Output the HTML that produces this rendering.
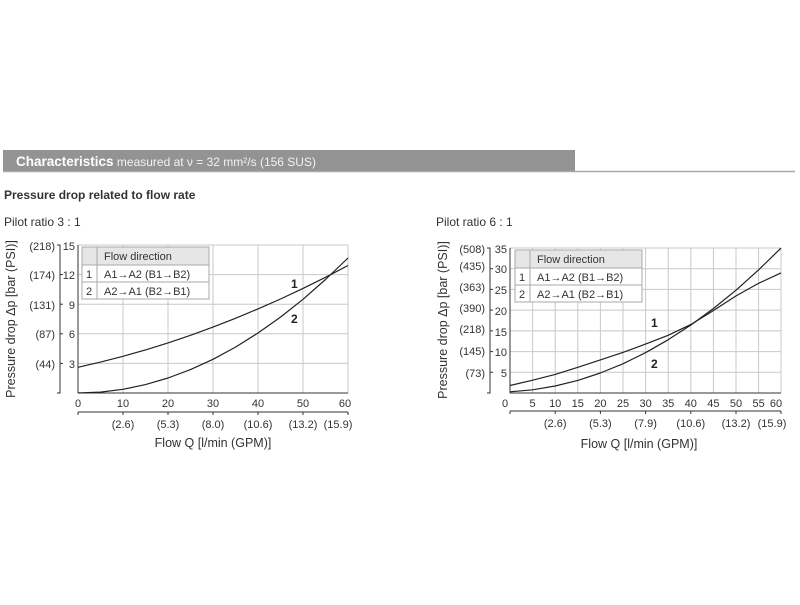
<!DOCTYPE html>
<html><head><meta charset="utf-8"><style>
body{margin:0;background:#fff;width:800px;height:600px;overflow:hidden}
svg{font-family:"Liberation Sans",sans-serif}
</style></head><body>
<svg width="800" height="600" viewBox="0 0 800 600" xmlns="http://www.w3.org/2000/svg">
<rect x="3" y="150" width="572" height="22" fill="#939393"/>
<line x1="3" y1="171.5" x2="795" y2="171.5" stroke="#a8a8a8" stroke-width="1.5"/>
<text x="16" y="166" font-size="13.5" fill="#fff"><tspan font-weight="bold">Characteristics</tspan><tspan font-size="12" fill="#f2f2f2"> measured at ν = 32 mm²/s (156 SUS)</tspan></text>
<text x="4" y="199" font-size="12" font-weight="bold" fill="#333">Pressure drop related to flow rate</text>
<text x="4" y="226" font-size="12" fill="#333">Pilot ratio 3 : 1</text>
<text x="436" y="226" font-size="12" fill="#333">Pilot ratio 6 : 1</text>

<!-- LEFT CHART -->
<g stroke="#c8c8c8" stroke-width="1" fill="none">
<line x1="123" y1="245" x2="123" y2="393"/><line x1="168" y1="245" x2="168" y2="393"/>
<line x1="213" y1="245" x2="213" y2="393"/><line x1="258" y1="245" x2="258" y2="393"/>
<line x1="303" y1="245" x2="303" y2="393"/><line x1="348" y1="245" x2="348" y2="393"/>
<line x1="78" y1="363.4" x2="348" y2="363.4"/><line x1="78" y1="333.8" x2="348" y2="333.8"/>
<line x1="78" y1="304.2" x2="348" y2="304.2"/><line x1="78" y1="274.6" x2="348" y2="274.6"/>
<line x1="78" y1="245" x2="348" y2="245"/>
</g>
<g stroke="#333" stroke-width="1" fill="none">
<line x1="78" y1="393" x2="348" y2="393"/>
<line x1="78" y1="245" x2="78" y2="393"/>
<polyline points="57,245 60,245 60,393 57,393"/>
<line x1="60" y1="274.6" x2="63" y2="274.6"/><line x1="60" y1="304.2" x2="63" y2="304.2"/>
<line x1="60" y1="333.8" x2="63" y2="333.8"/><line x1="60" y1="363.4" x2="63" y2="363.4"/>
<line x1="78" y1="412" x2="348" y2="412"/>
<line x1="78" y1="412" x2="78" y2="415"/><line x1="123" y1="412" x2="123" y2="415"/><line x1="168" y1="412" x2="168" y2="415"/><line x1="213" y1="412" x2="213" y2="415"/><line x1="258" y1="412" x2="258" y2="415"/><line x1="303" y1="412" x2="303" y2="415"/><line x1="348" y1="412" x2="348" y2="415"/>
</g>
<g font-size="11" fill="#333" text-anchor="end">
<text x="75" y="250">15</text><text x="75" y="279">12</text><text x="75" y="309">9</text><text x="75" y="338">6</text><text x="75" y="368">3</text>
<text x="55" y="250">(218)</text><text x="55" y="279">(174)</text><text x="55" y="309">(131)</text><text x="55" y="338">(87)</text><text x="55" y="368">(44)</text>
</g>
<g font-size="11" fill="#333" text-anchor="middle">
<text x="78" y="407">0</text><text x="123" y="407">10</text><text x="168" y="407">20</text><text x="213" y="407">30</text><text x="258" y="407">40</text><text x="303" y="407">50</text><text x="345" y="407">60</text>
<text x="123" y="428">(2.6)</text><text x="168" y="428">(5.3)</text><text x="213" y="428">(8.0)</text><text x="258" y="428">(10.6)</text><text x="303" y="428">(13.2)</text><text x="338" y="428">(15.9)</text>
<text x="213" y="447" font-size="12.5">Flow Q [l/min (GPM)]</text>
<text transform="translate(15,319) rotate(-90)" font-size="12.5">Pressure drop Δp [bar (PSI)]</text>
</g>
<g stroke="#222" stroke-width="1.2" fill="none" stroke-linejoin="round">
<polyline points="78,367.3 100.5,362.1 123,356.3 145.5,349.9 168,342.9 190.5,335.3 213,327.1 235.5,318.3 258,308.9 280.5,299.0 303,288.4 325.5,277.3 348,265.5"/>
<polyline points="78,393 100.5,392.1 123,389.3 145.5,384.6 168,378.0 190.5,369.6 213,359.3 235.5,347.1 258,333.0 280.5,317.1 303,299.3 325.5,279.5 348,258.0"/>
</g>
<text x="291" y="288" font-size="12" font-weight="bold" fill="#222">1</text>
<text x="291" y="323" font-size="12" font-weight="bold" fill="#222">2</text>
<g>
<rect x="82" y="247" width="127" height="52" fill="#fff" stroke="#aaa"/>
<rect x="82" y="247" width="127" height="18" fill="#e6e6e6" stroke="#aaa"/>
<line x1="82" y1="282" x2="209" y2="282" stroke="#aaa"/>
<line x1="97" y1="247" x2="97" y2="299" stroke="#aaa"/>
<g font-size="11" fill="#333"><text x="104" y="260">Flow direction</text>
<text x="86" y="278">1</text><text x="104" y="278">A1→A2 (B1→B2)</text>
<text x="86" y="295">2</text><text x="104" y="295">A2→A1 (B2→B1)</text></g>
</g>

<!-- RIGHT CHART -->
<g stroke="#c8c8c8" stroke-width="1" fill="none">
<line x1="532.6" y1="248" x2="532.6" y2="393"/><line x1="555.2" y1="248" x2="555.2" y2="393"/><line x1="577.8" y1="248" x2="577.8" y2="393"/><line x1="600.4" y1="248" x2="600.4" y2="393"/><line x1="623" y1="248" x2="623" y2="393"/><line x1="645.6" y1="248" x2="645.6" y2="393"/><line x1="668.2" y1="248" x2="668.2" y2="393"/><line x1="690.8" y1="248" x2="690.8" y2="393"/><line x1="713.4" y1="248" x2="713.4" y2="393"/><line x1="736" y1="248" x2="736" y2="393"/><line x1="758.6" y1="248" x2="758.6" y2="393"/><line x1="781" y1="248" x2="781" y2="393"/>
<line x1="510" y1="372.3" x2="781" y2="372.3"/><line x1="510" y1="351.6" x2="781" y2="351.6"/><line x1="510" y1="330.9" x2="781" y2="330.9"/><line x1="510" y1="310.1" x2="781" y2="310.1"/><line x1="510" y1="289.4" x2="781" y2="289.4"/><line x1="510" y1="268.7" x2="781" y2="268.7"/><line x1="510" y1="248" x2="781" y2="248"/>
</g>
<g stroke="#333" stroke-width="1" fill="none">
<line x1="510" y1="393" x2="781" y2="393"/><line x1="510" y1="248" x2="510" y2="393"/>
<polyline points="487,248 490,248 490,393 487,393"/>
<line x1="490" y1="372.3" x2="493" y2="372.3"/><line x1="490" y1="351.6" x2="493" y2="351.6"/><line x1="490" y1="330.9" x2="493" y2="330.9"/><line x1="490" y1="310.1" x2="493" y2="310.1"/><line x1="490" y1="289.4" x2="493" y2="289.4"/><line x1="490" y1="268.7" x2="493" y2="268.7"/>
<line x1="510" y1="411" x2="781" y2="411"/>
<line x1="510" y1="411" x2="510" y2="414"/><line x1="555.2" y1="411" x2="555.2" y2="414"/><line x1="600.4" y1="411" x2="600.4" y2="414"/><line x1="645.6" y1="411" x2="645.6" y2="414"/><line x1="690.8" y1="411" x2="690.8" y2="414"/><line x1="736" y1="411" x2="736" y2="414"/><line x1="781" y1="411" x2="781" y2="414"/>
</g>
<g font-size="11" fill="#333" text-anchor="end">
<text x="507" y="253">35</text><text x="507" y="273">30</text><text x="507" y="294">25</text><text x="507" y="315">20</text><text x="507" y="336">15</text><text x="507" y="356">10</text><text x="507" y="377">5</text>
<text x="485" y="253">(508)</text><text x="485" y="270">(435)</text><text x="485" y="291">(363)</text><text x="485" y="312">(390)</text><text x="485" y="333">(218)</text><text x="485" y="355">(145)</text><text x="485" y="377">(73)</text>
</g>
<g font-size="11" fill="#333" text-anchor="middle">
<text x="505" y="407">0</text><text x="532.6" y="407">5</text><text x="555.2" y="407">10</text><text x="577.8" y="407">15</text><text x="600.4" y="407">20</text><text x="623" y="407">25</text><text x="645.6" y="407">30</text><text x="668.2" y="407">35</text><text x="690.8" y="407">40</text><text x="713.4" y="407">45</text><text x="736" y="407">50</text><text x="758.6" y="407">55</text><text x="776" y="407">60</text>
<text x="555.2" y="427">(2.6)</text><text x="600.4" y="427">(5.3)</text><text x="645.6" y="427">(7.9)</text><text x="690.8" y="427">(10.6)</text><text x="736" y="427">(13.2)</text><text x="772" y="427">(15.9)</text>
<text x="639" y="448" font-size="12.5">Flow Q [l/min (GPM)]</text>
<text transform="translate(447,320) rotate(-90)" font-size="12.5">Pressure drop Δp [bar (PSI)]</text>
</g>
<g stroke="#222" stroke-width="1.2" fill="none" stroke-linejoin="round">
<polyline points="510,385.5 532.6,380.2 555.2,374.4 577.8,367.3 600.3,359.9 622.9,352.4 645.5,344.1 668.1,335.3 690.7,324.6 713.3,310.6 735.9,296.0 758.4,283.4 781,272.9"/>
<polyline points="510,391.8 532.6,389.8 555.2,386.0 577.8,380.4 600.3,373.0 622.9,363.8 645.5,352.7 668.1,339.8 690.7,325.1 713.3,308.6 735.9,290.3 758.4,270.1 781,248.1"/>
</g>
<text x="651" y="327" font-size="12" font-weight="bold" fill="#222">1</text>
<text x="651" y="368" font-size="12" font-weight="bold" fill="#222">2</text>
<g>
<rect x="515" y="250" width="127" height="52" fill="#fff" stroke="#aaa"/>
<rect x="515" y="250" width="127" height="18" fill="#e6e6e6" stroke="#aaa"/>
<line x1="515" y1="285" x2="642" y2="285" stroke="#aaa"/>
<line x1="530" y1="250" x2="530" y2="302" stroke="#aaa"/>
<g font-size="11" fill="#333"><text x="537" y="263">Flow direction</text>
<text x="519" y="281">1</text><text x="537" y="281">A1→A2 (B1→B2)</text>
<text x="519" y="298">2</text><text x="537" y="298">A2→A1 (B2→B1)</text></g>
</g>
</svg>
</body></html>
